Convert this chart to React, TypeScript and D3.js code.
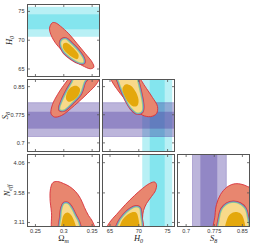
import React from 'react';
import * as d3 from 'd3';

type Pt = [number, number];

// axis ticks
const omegaTicks = [0.25, 0.3, 0.35];
const h0Ticks = [65, 70, 75];
const s8Ticks = [0.7, 0.775, 0.85];
const neffTicks = [3.11, 3.58, 4.06];

const omegaDomain = [0.236, 0.363];
const h0Domain = [63.7, 76.2];
const s8Domain = [0.677, 0.869];
const neffDomain = [3.046, 4.19];

// external priors: H0 (cyan) and S8 (purple), 1 and 2 sigma
const h0Band1 = [71.9, 74.5];
const h0Band2 = [70.6, 75.8];
const s8Band1 = [0.738, 0.783];
const s8Band2 = [0.717, 0.807];

// contour outlines in data units: outer (95%), inner group, core
const omH0Outer: Pt[] = [[0.2796, 73.02], [0.2748, 71.98], [0.2824, 69.95], [0.3, 67.92], [0.3177, 66.48], [0.3325, 65.61], [0.3471, 65.04], [0.353, 65.32], [0.3501, 66.18], [0.3383, 67.64], [0.3237, 69.38], [0.3089, 71.11], [0.2942, 72.43], [0.2854, 73.02]];
const omH0Inner: Pt[] = [[0.2972, 69.95], [0.2954, 69.38], [0.3, 68.21], [0.3148, 66.88], [0.3283, 66.18], [0.3343, 66.18], [0.3336, 66.77], [0.3237, 68.21], [0.3119, 69.38], [0.303, 70.12]];
const omH0Core: Pt[] = [[0.2997, 69.43], [0.2987, 68.63], [0.3119, 67.24], [0.324, 66.73], [0.3261, 67.43], [0.3159, 68.73], [0.3058, 69.53]];

const omS8Outer: Pt[] = [[0.2775, 0.778], [0.28, 0.802], [0.289, 0.829], [0.2995, 0.853], [0.31, 0.874], [0.321, 0.893], [0.3665, 0.893], [0.3595, 0.861], [0.342, 0.832], [0.319, 0.8], [0.296, 0.773], [0.2836, 0.769]];
const omS8Inner: Pt[] = [[0.294, 0.79], [0.2986, 0.813], [0.3066, 0.838], [0.3154, 0.861], [0.3224, 0.882], [0.3436, 0.88], [0.3357, 0.864], [0.3286, 0.833], [0.3154, 0.81], [0.2995, 0.789]];
const omS8Core: Pt[] = [[0.3039, 0.818], [0.3066, 0.837], [0.3136, 0.849], [0.3233, 0.852], [0.3286, 0.844], [0.326, 0.828], [0.3171, 0.814], [0.3083, 0.81]];

const h0S8Outer: Pt[] = [[64.74, 0.888], [65.26, 0.866], [66.13, 0.845], [67.52, 0.818], [69.26, 0.792], [70.64, 0.774], [72.03, 0.77], [73.07, 0.778], [73.25, 0.797], [72.38, 0.821], [71.34, 0.845], [70.47, 0.866], [69.95, 0.888]];
const h0S8Inner: Pt[] = [[66.3, 0.882], [66.65, 0.861], [67.17, 0.84], [67.87, 0.816], [68.73, 0.794], [69.78, 0.781], [70.47, 0.785], [70.56, 0.802], [70.3, 0.826], [69.95, 0.85], [69.6, 0.872], [69.26, 0.888]];
const h0S8Core: Pt[] = [[67.17, 0.845], [67.52, 0.826], [68.21, 0.808], [69.08, 0.797], [69.78, 0.8], [69.95, 0.816], [69.43, 0.837], [68.56, 0.853], [67.69, 0.856]];

const omNeffOuter: Pt[] = [[0.2819, 2.92], [0.2783, 3.268], [0.2757, 3.491], [0.2766, 3.65], [0.281, 3.745], [0.2889, 3.761], [0.2995, 3.729], [0.3101, 3.682], [0.3207, 3.602], [0.3295, 3.491], [0.3365, 3.348], [0.3436, 3.221], [0.3507, 3.125], [0.356, 2.92], [0.3207, 2.88]];
const omNeffInner: Pt[] = [[0.2951, 2.92], [0.296, 3.205], [0.2977, 3.332], [0.3013, 3.403], [0.3066, 3.403], [0.3127, 3.332], [0.3189, 3.221], [0.3251, 3.109], [0.3277, 2.92]];
const omNeffCore: Pt[] = [[0.296, 2.92], [0.2969, 3.141], [0.3004, 3.237], [0.3066, 3.268], [0.3127, 3.229], [0.318, 3.141], [0.3224, 2.92]];

const h0NeffOuter: Pt[] = [[64.05, 2.92], [64.92, 3.109], [66.13, 3.237], [67.69, 3.396], [69.26, 3.539], [70.64, 3.65], [71.86, 3.729], [72.73, 3.753], [73.07, 3.713], [72.9, 3.618], [72.21, 3.523], [71.34, 3.411], [70.82, 3.3], [70.64, 3.173], [70.64, 2.92]];
const h0NeffInner: Pt[] = [[66.13, 2.92], [66.65, 3.109], [67.52, 3.221], [68.56, 3.308], [69.52, 3.348], [70.04, 3.332], [70.21, 3.237], [70.21, 2.92]];
const h0NeffCore: Pt[] = [[66.65, 2.92], [67.0, 3.125], [67.87, 3.221], [68.73, 3.268], [69.52, 3.268], [69.86, 3.205], [69.86, 2.92]];

const s8NeffOuter: Pt[] = [[0.7757, 2.92], [0.777, 3.221], [0.781, 3.396], [0.7917, 3.554], [0.8077, 3.666], [0.8263, 3.721], [0.845, 3.721], [0.8637, 3.682], [0.8797, 3.618], [0.8877, 2.92]];
const s8NeffInner: Pt[] = [[0.789, 2.92], [0.7903, 3.173], [0.797, 3.316], [0.8103, 3.396], [0.8263, 3.419], [0.8423, 3.396], [0.8557, 3.324], [0.861, 3.221], [0.8623, 2.92]];
const s8NeffCore: Pt[] = [[0.805, 2.92], [0.809, 3.157], [0.8183, 3.245], [0.8317, 3.276], [0.845, 3.252], [0.853, 3.173], [0.8557, 2.92]];

type Key = 'om' | 'h0' | 's8' | 'neff';

const axes: Record<Key, { domain: number[]; ticks: number[] }> = {
  om: { domain: omegaDomain, ticks: omegaTicks },
  h0: { domain: h0Domain, ticks: h0Ticks },
  s8: { domain: s8Domain, ticks: s8Ticks },
  neff: { domain: neffDomain, ticks: neffTicks },
};

const panels: { row: number; col: number; x: Key; y: Key; outer: Pt[]; inner: Pt[]; core: Pt[] }[] = [
  { row: 0, col: 0, x: 'om', y: 'h0', outer: omH0Outer, inner: omH0Inner, core: omH0Core },
  { row: 1, col: 0, x: 'om', y: 's8', outer: omS8Outer, inner: omS8Inner, core: omS8Core },
  { row: 1, col: 1, x: 'h0', y: 's8', outer: h0S8Outer, inner: h0S8Inner, core: h0S8Core },
  { row: 2, col: 0, x: 'om', y: 'neff', outer: omNeffOuter, inner: omNeffInner, core: omNeffCore },
  { row: 2, col: 1, x: 'h0', y: 'neff', outer: h0NeffOuter, inner: h0NeffInner, core: h0NeffCore },
  { row: 2, col: 2, x: 's8', y: 'neff', outer: s8NeffOuter, inner: s8NeffInner, core: s8NeffCore },
];

const W = 256;
const H = 245;
const SIZE = 72;
const STEP = 75;
const LEFT = 27.5;
const TOP = 4.5;
const TICK = 2.5;

const cyan = 'rgb(0,200,220)';
const purple = 'rgb(80,60,160)';
const tickFont = 'Liberation Sans, Arial, sans-serif';
const mathFont = 'Liberation Serif, DejaVu Serif, serif';

const fmt = (v: number) => String(v);

function Panel({ p }: { p: (typeof panels)[number] }) {
  const left = LEFT + p.col * STEP;
  const top = TOP + p.row * STEP;
  const xs = d3.scaleLinear().domain(axes[p.x].domain).range([left, left + SIZE]);
  const ys = d3.scaleLinear().domain(axes[p.y].domain).range([top + SIZE, top]);
  const line = d3
    .line<Pt>()
    .x((d) => xs(d[0]))
    .y((d) => ys(d[1]))
    .curve(d3.curveCatmullRomClosed.alpha(0.5));
  const clipId = `clip-${p.row}-${p.col}`;

  const vBand = (b: number[], color: string, op: number, edge: boolean, k: string) => (
    <rect key={k} x={xs(b[0])} y={top} width={xs(b[1]) - xs(b[0])} height={SIZE}
      fill={color} fillOpacity={op} stroke={edge ? color : 'none'} strokeOpacity={0.45} strokeWidth={0.7} />
  );
  const hBand = (b: number[], color: string, op: number, edge: boolean, k: string) => (
    <rect key={k} x={left} y={ys(b[1])} width={SIZE} height={ys(b[0]) - ys(b[1])}
      fill={color} fillOpacity={op} stroke={edge ? color : 'none'} strokeOpacity={0.45} strokeWidth={0.7} />
  );

  const bands: React.ReactNode[] = [];
  if (p.x === 'h0') bands.push(vBand(h0Band2, cyan, 0.28, false, 'hx2'), vBand(h0Band1, cyan, 0.28, false, 'hx1'));
  if (p.y === 'h0') bands.push(hBand(h0Band2, cyan, 0.28, false, 'hy2'), hBand(h0Band1, cyan, 0.28, false, 'hy1'));
  if (p.x === 's8') bands.push(vBand(s8Band2, purple, 0.38, true, 'sx2'), vBand(s8Band1, purple, 0.38, false, 'sx1'));
  if (p.y === 's8') bands.push(hBand(s8Band2, purple, 0.38, true, 'sy2'), hBand(s8Band1, purple, 0.38, false, 'sy1'));

  const innerD = line(p.inner) || '';
  const right = left + SIZE;
  const bottom = top + SIZE;

  return (
    <g>
      <clipPath id={clipId}>
        <rect x={left} y={top} width={SIZE} height={SIZE} />
      </clipPath>
      <rect x={left} y={top} width={SIZE} height={SIZE} fill="#fff" />
      <g clipPath={`url(#${clipId})`}>
        {bands}
        <path d={line(p.outer) || ''} fill="#e8866f" stroke="#d8303a" strokeWidth={0.9} />
        <path d={innerD} fill="none" stroke="#d43a3a" strokeWidth={4.8} strokeLinejoin="round" />
        <path d={innerD} fill="none" stroke="#6a93d6" strokeWidth={3.5} strokeLinejoin="round" />
        <path d={innerD} fill="none" stroke="#92cc8e" strokeWidth={1.9} strokeLinejoin="round" />
        <path d={innerD} fill="#f8d98a" stroke="none" />
        <path d={line(p.core) || ''} fill="#e4a80c" stroke="none" />
      </g>
      <rect x={left} y={top} width={SIZE} height={SIZE} fill="none" stroke="#555" strokeWidth={1} />
      {axes[p.x].ticks.map((t) => (
        <g key={`xt${t}`} stroke="#555" strokeWidth={0.8}>
          <line x1={xs(t)} x2={xs(t)} y1={bottom} y2={bottom - TICK} />
          <line x1={xs(t)} x2={xs(t)} y1={top} y2={top + TICK} />
        </g>
      ))}
      {axes[p.y].ticks.map((t) => (
        <g key={`yt${t}`} stroke="#555" strokeWidth={0.8}>
          <line x1={left} x2={left + TICK} y1={ys(t)} y2={ys(t)} />
          <line x1={right} x2={right - TICK} y1={ys(t)} y2={ys(t)} />
        </g>
      ))}
      {p.col === 0 &&
        axes[p.y].ticks.map((t) => (
          <text key={`yl${t}`} x={left - 3} y={ys(t)} dy="0.35em" textAnchor="end"
            fontFamily={tickFont} fontSize={5.6} fill="#333">{fmt(t)}</text>
        ))}
      {p.row === 2 &&
        axes[p.x].ticks.map((t) => (
          <text key={`xl${t}`} x={xs(t)} y={bottom + 6.5} textAnchor="middle"
            fontFamily={tickFont} fontSize={5.6} fill="#333">{fmt(t)}</text>
        ))}
    </g>
  );
}

function MathLabel({ main, sub, italicMain = true, x, y, rotate }: { main: string; sub: string; italicMain?: boolean; x: number; y: number; rotate?: boolean }) {
  return (
    <text x={x} y={y} textAnchor="middle" fontFamily={mathFont} fontSize={8.5} fill="#222"
      transform={rotate ? `rotate(-90 ${x} ${y})` : undefined}>
      <tspan fontStyle={italicMain ? 'italic' : 'normal'}>{main}</tspan>
      <tspan fontStyle="italic" fontSize={6} dy={2}>{sub}</tspan>
    </text>
  );
}

export default function App() {
  const mid = SIZE / 2;
  return (
    <svg width={W} height={H} viewBox={`0 0 ${W} ${H}`}
      style={{ position: 'absolute', left: 0, top: 0, background: '#fff' }}>
      {panels.map((p) => (
        <Panel key={`${p.row}-${p.col}`} p={p} />
      ))}
      <MathLabel main="H" sub="0" x={12} y={TOP + mid} rotate />
      <MathLabel main="S" sub="8" x={8} y={TOP + STEP + mid} rotate />
      <MathLabel main="N" sub="eff" x={10} y={TOP + 2 * STEP + mid} rotate />
      <MathLabel main="Ω" sub="m" italicMain={false} x={LEFT + mid} y={241} />
      <MathLabel main="H" sub="0" x={LEFT + STEP + mid} y={241} />
      <MathLabel main="S" sub="8" x={LEFT + 2 * STEP + mid} y={241} />
    </svg>
  );
}
